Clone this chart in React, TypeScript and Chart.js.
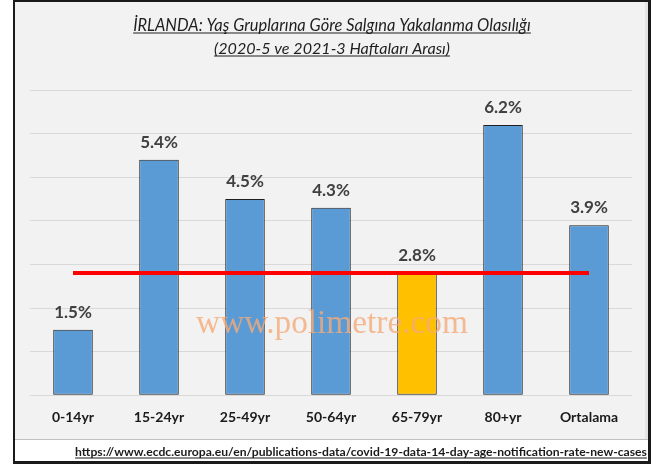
import React, { useEffect, useRef } from "react";
import { Chart, registerables } from "chart.js";

Chart.register(...registerables);

const categories = ["0-14yr", "15-24yr", "25-49yr", "50-64yr", "65-79yr", "80+yr", "Ortalama"];
const rates = [1.5, 5.4, 4.5, 4.3, 2.8, 6.2, 3.9];
const referenceLine = [2.8, 2.8, 2.8, 2.8, 2.8, 2.8, 2.8];
const barColors = ["#5b9bd5", "#5b9bd5", "#5b9bd5", "#5b9bd5", "#ffc000", "#5b9bd5", "#5b9bd5"];
const yMin = 0;
const yMax = 7;
const yStep = 1;
const titleLines = [
  "İRLANDA: Yaş Gruplarına Göre Salgına Yakalanma Olasılığı",
  "(2020-5 ve 2021-3 Haftaları Arası)",
];
const sourceUrl = "https://www.ecdc.europa.eu/en/publications-data/covid-19-data-14-day-age-notification-rate-new-cases";
const watermarkText = "www.polimetre.com";

const W = 667;
const H = 468;

function fitFont(ctx: CanvasRenderingContext2D, text: string, style: string, family: string, target: number) {
  const base = 20;
  ctx.font = `${style} ${base}px ${family}`;
  const w = ctx.measureText(text).width;
  const size = (base * target) / w;
  ctx.font = `${style} ${size.toFixed(2)}px ${family}`;
  return ctx.measureText(text).width;
}

function underlinedText(ctx: CanvasRenderingContext2D, text: string, cx: number, y: number, width: number, color: string) {
  ctx.fillStyle = color;
  ctx.textAlign = "center";
  ctx.textBaseline = "alphabetic";
  ctx.fillText(text, cx, y);
  ctx.fillRect(cx - width / 2, y + 1.5, width, 1);
}

const framePlugin = {
  id: "frame",
  beforeDraw(chart: any) {
    const ctx = chart.ctx as CanvasRenderingContext2D;
    ctx.save();
    ctx.fillStyle = "#ffffff";
    ctx.fillRect(0, 0, W, H);
    ctx.fillStyle = "#f2f2f2";
    ctx.fillRect(15, 2, 633, 438);
    ctx.fillStyle = "#e4e4e4";
    ctx.fillRect(645, 2, 3, 438);
    ctx.fillStyle = "#bfbfbf";
    ctx.fillRect(15, 439, 633, 1);
    ctx.fillStyle = "#1a1a1a";
    ctx.fillRect(13, 0, 638, 2);
    ctx.fillRect(13, 0, 2, 464);
    ctx.fillRect(648, 0, 3, 464);
    ctx.fillRect(13, 461, 638, 3);
    ctx.restore();
  },
  afterDatasetsDraw(chart: any) {
    const ctx = chart.ctx as CanvasRenderingContext2D;
    ctx.save();
    const meta = chart.getDatasetMeta(0);
    ctx.font = "bold 17px Lato, 'DejaVu Sans', sans-serif";
    ctx.fillStyle = "#404040";
    ctx.textAlign = "center";
    ctx.textBaseline = "alphabetic";
    meta.data.forEach((bar: any, i: number) => {
      ctx.fillText(rates[i].toFixed(1) + "%", bar.x, bar.y - 12);
    });
    // watermark
    ctx.fillStyle = "rgba(244, 170, 120, 0.8)";
    const ww = fitFont(ctx, watermarkText, "normal", "'Liberation Serif', 'Times New Roman', serif", 272);
    ctx.textAlign = "left";
    ctx.fillText(watermarkText, 332 - ww / 2, 333);
    ctx.restore();
  },
  afterDraw(chart: any) {
    const ctx = chart.ctx as CanvasRenderingContext2D;
    ctx.save();
    const fam = "Lato, 'DejaVu Sans', sans-serif";
    let w = fitFont(ctx, titleLines[0], "italic", fam, 398);
    underlinedText(ctx, titleLines[0], 332, 31, w, "#1f1f1f");
    w = fitFont(ctx, titleLines[1], "italic", fam, 236);
    underlinedText(ctx, titleLines[1], 332, 54, w, "#1f1f1f");
    w = fitFont(ctx, sourceUrl, "bold", fam, 572);
    underlinedText(ctx, sourceUrl, 361, 456, w, "#1a1a1a");
    ctx.restore();
  },
};

export default function App() {
  const ref = useRef<HTMLCanvasElement | null>(null);
  useEffect(() => {
    if (!ref.current) return;
    const chart = new Chart(ref.current, {
      type: "bar",
      data: {
        labels: categories,
        datasets: [
          {
            type: "bar",
            data: rates,
            backgroundColor: barColors,
            borderColor: "#1f1f1f",
            borderWidth: 1,
            borderSkipped: false,
            categoryPercentage: 1,
            barPercentage: 0.46,
            order: 2,
          },
          {
            type: "line",
            data: referenceLine,
            borderColor: "#ff0000",
            borderWidth: 4,
            pointRadius: 0,
            fill: false,
            order: 1,
          } as any,
        ],
      },
      options: {
        responsive: false,
        animation: false,
        devicePixelRatio: 1,
        layout: { padding: { left: 30, right: 35, top: 90, bottom: 28 } },
        plugins: {
          legend: { display: false },
          tooltip: { enabled: false },
          title: { display: false },
        },
        scales: {
          x: {
            grid: { display: false, drawTicks: false },
            border: { display: false },
            ticks: {
              color: "#1a1a1a",
              padding: 14,
              font: { family: "Lato, 'DejaVu Sans', sans-serif", size: 14, weight: "bold" },
              maxRotation: 0,
            },
          },
          y: {
            min: yMin,
            max: yMax,
            grid: { color: "#d9d9d9", lineWidth: 1, drawTicks: false },
            border: { display: false },
            ticks: { display: false, stepSize: yStep },
          },
        },
      },
      plugins: [framePlugin],
    });
    return () => chart.destroy();
  }, []);
  return (
    <div style={{ position: "absolute", left: 0, top: 0, width: W, height: H }}>
      <canvas ref={ref} width={W} height={H} style={{ width: W, height: H, display: "block" }} />
    </div>
  );
}
